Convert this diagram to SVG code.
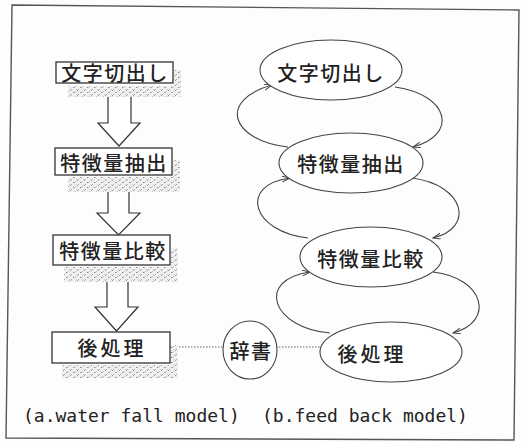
<svg xmlns="http://www.w3.org/2000/svg" width="521" height="442" viewBox="0 0 521 442">
<style>
.frame{fill:none;stroke:#555;stroke-width:1.4}
.box{fill:#fff;stroke:#333;stroke-width:1.3}
.shade{fill:url(#speck);stroke:none}
.barrow{fill:#fff;stroke:#333;stroke-width:1.2;stroke-linejoin:miter}
.ell{fill:#fff;stroke:#444;stroke-width:1.1}
.lbl{font-family:"Noto Sans CJK JP","Noto Sans CJK SC",sans-serif;font-size:20px;font-weight:500;fill:#222;text-anchor:middle;dominant-baseline:central;letter-spacing:1.5px}
.cap{font-family:"DejaVu Sans Mono","Liberation Mono",monospace;font-size:18px;fill:#222}
.arc{fill:none;stroke:#444;stroke-width:1.1;marker-end:url(#ah)}
.dot{fill:none;stroke:#666;stroke-width:1;stroke-dasharray:1.5 1.5}
</style>
<defs>
<pattern id="speck" width="7" height="5" patternUnits="userSpaceOnUse">
<rect width="7" height="5" fill="#f0f0f0"/>
<rect x="0" y="0" width="1" height="1" fill="#999"/>
<rect x="3" y="2" width="1.5" height="1" fill="#888"/>
<rect x="5" y="1" width="1" height="1" fill="#bbb"/>
<rect x="1" y="4" width="1" height="1" fill="#aaa"/>
<rect x="6" y="4" width="1" height="1" fill="#ccc"/>
</pattern>
<marker id="ah" markerWidth="10" markerHeight="8" refX="8" refY="3" orient="auto" markerUnits="userSpaceOnUse">
<path d="M0,0 L8,3 L0,6" fill="none" stroke="#444" stroke-width="1"/>
</marker>
</defs>
<rect width="521" height="442" fill="#fdfdfd"/>
<polygon class="frame" points="12,5 519,10 514,440 6,438"/>

<g id="connectors">
<path class="barrow" d="M108,97 L108,123 L98,123 L119,146 L140,123 L131,123 L131,97"/>
<path class="barrow" d="M108,192 L108,213 L97,213 L118.5,235 L140,213 L129,213 L129,192"/>
<path class="barrow" d="M107,282 L107,307 L95,307 L116.5,331 L138,307 L128,307 L128,282"/>
<line class="dot" x1="170" y1="347" x2="223" y2="347"/>
<line class="dot" x1="276" y1="347" x2="321" y2="347"/>
<path class="arc" d="M395,87 C450,95 458,135 413,147"/>
<path class="arc" d="M288,147 C230,140 218,100 272,85"/>
<path class="arc" d="M412,178 C465,185 475,228 433,238"/>
<path class="arc" d="M308,238 C252,232 238,185 290,178"/>
<path class="arc" d="M433,272 C485,278 495,322 453,333"/>
<path class="arc" d="M330,333 C272,328 255,280 310,272"/>
</g>

<g id="a1">
<path class="shade" d="M174,70 L181,70 L181,97 L68,97 L68,86 L174,86 Z"/>
<rect class="box" x="56" y="62" width="117" height="21"/>
<text class="lbl" x="115" y="72.5">文字切出し</text>
</g>
<g id="a2">
<path class="shade" d="M173,160 L180,160 L180,192 L68,192 L68,177 L173,177 Z"/>
<rect class="box" x="55" y="148" width="117" height="27"/>
<text class="lbl" x="114" y="162">特徴量抽出</text>
</g>
<g id="a3">
<path class="shade" d="M171,248 L178,248 L178,282 L64,282 L64,267 L171,267 Z"/>
<rect class="box" x="53" y="235" width="117" height="30"/>
<text class="lbl" x="113" y="250">特徴量比較</text>
</g>
<g id="a4">
<path class="shade" d="M171,345 L178,345 L178,378 L62,378 L62,365 L171,365 Z"/>
<rect class="box" x="52" y="332" width="118" height="31"/>
<text class="lbl" x="112" y="347.5" style="letter-spacing:3px">後処理</text>
</g>

<g id="jisho">
<ellipse class="ell" cx="250" cy="350" rx="27" ry="29"/>
<text class="lbl" x="251" y="350">辞書</text>
</g>

<g id="b1">
<ellipse class="ell" cx="331" cy="70" rx="71" ry="30"/>
<text class="lbl" x="331" y="72">文字切出し</text>
</g>
<g id="b2">
<ellipse class="ell" cx="351" cy="163" rx="72" ry="30"/>
<text class="lbl" x="351" y="163">特徴量抽出</text>
</g>
<g id="b3">
<ellipse class="ell" cx="371" cy="257" rx="71" ry="30"/>
<text class="lbl" x="371" y="258">特徴量比較</text>
</g>
<g id="b4">
<ellipse class="ell" cx="391" cy="352" rx="71" ry="30"/>
<text class="lbl" x="372" y="353" style="letter-spacing:3px">後処理</text>
</g>

<text class="cap" x="23" y="422">(a.water fall model)</text>
<text class="cap" x="262" y="422">(b.feed back model)</text>
</svg>
